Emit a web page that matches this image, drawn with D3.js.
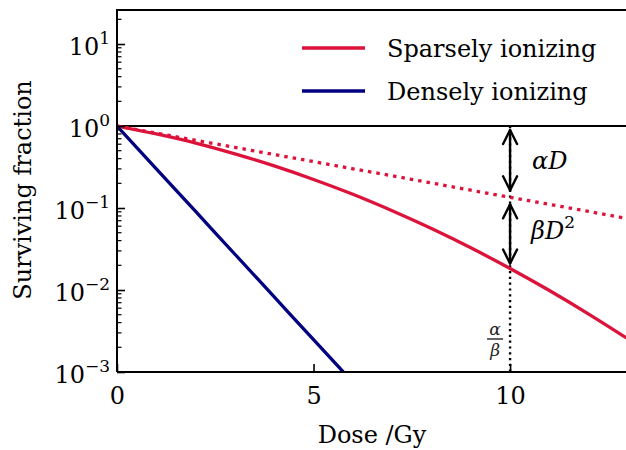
<!DOCTYPE html>
<html>
<head>
<meta charset="utf-8">
<script src="https://cdn.jsdelivr.net/npm/d3@7"></script>
<style>
  body { margin: 0; background: #fff; }
  svg { display: block; font-family: "DejaVu Serif", serif; }
</style>
</head>
<body>
<svg id="chart" width="626" height="450"></svg>
<script>
const doses = [0, 1, 2, 3, 4, 5, 6, 7, 8, 9, 10, 11, 12, 13];
// sparsely ionizing, full survival curve
const sparse = [1, 0.80, 0.62, 0.458, 0.326, 0.223, 0.147, 0.0926, 0.0561, 0.0327, 0.0183, 0.00985, 0.00509, 0.00253];
// sparsely ionizing, linear (alpha) part only - dotted
const sparseLinear = [1, 0.819, 0.670, 0.549, 0.449, 0.368, 0.301, 0.247, 0.202, 0.165, 0.135, 0.111, 0.0907, 0.0743];
// densely ionizing
const denseDoses = [0, 1, 2, 3, 4, 5, 6];
const dense = [1, 0.301, 0.0907, 0.0273, 0.00823, 0.00248, 0.00075];
const xTicks = [0, 5, 10];
const yTicks = [-3, -2, -1, 0, 1];
const alphaOverBeta = 10;

const svg = d3.select('#chart');
const margin = { left: 117, top: 10, bottom: 372 };
const x = d3.scaleLinear().domain([0, 13]).range([margin.left, 628]);
const y = d3.scaleLog().domain([1e-3, 26]).range([margin.bottom, margin.top]);
const fontSize = 24;

svg.append('defs').append('clipPath').attr('id', 'clip')
  .append('rect').attr('x', margin.left).attr('y', margin.top)
  .attr('width', 626 - margin.left).attr('height', margin.bottom - margin.top);

const plot = svg.append('g').attr('clip-path', 'url(#clip)');

// reference line at S = 1
plot.append('line')
  .attr('x1', x(0)).attr('x2', 626)
  .attr('y1', y(1)).attr('y2', y(1))
  .attr('stroke', '#000').attr('stroke-width', 2);

// dotted alpha/beta marker
plot.append('line')
  .attr('x1', x(alphaOverBeta)).attr('x2', x(alphaOverBeta))
  .attr('y1', y(1)).attr('y2', margin.bottom)
  .attr('stroke', '#000').attr('stroke-width', 2.4)
  .attr('stroke-dasharray', '2.2,3.6');

const line = (xs) => d3.line()
  .x((d, i) => x(xs[i]))
  .y(d => y(d))
  .curve(d3.curveMonotoneX);

plot.append('path').datum(sparseLinear)
  .attr('d', line(doses))
  .attr('fill', 'none').attr('stroke', '#dc143c').attr('stroke-width', 3.3)
  .attr('stroke-dasharray', '3.5,5');

plot.append('path').datum(sparse)
  .attr('d', line(doses))
  .attr('fill', 'none').attr('stroke', '#dc143c').attr('stroke-width', 3.3);

plot.append('path').datum(dense)
  .attr('d', line(denseDoses))
  .attr('fill', 'none').attr('stroke', '#000080').attr('stroke-width', 3.3);

// double arrows
function dblArrow(y1, y2) {
  const ax = x(alphaOverBeta);
  const g = svg.append('g').attr('stroke', '#000').attr('stroke-width', 2.4)
    .attr('fill', 'none').attr('stroke-linecap', 'round').attr('stroke-linejoin', 'round');
  g.append('line').attr('x1', ax).attr('x2', ax).attr('y1', y1).attr('y2', y2);
  g.append('path').attr('d', `M${ax - 7},${y1 + 14}L${ax},${y1}L${ax + 7},${y1 + 14}`);
  g.append('path').attr('d', `M${ax - 7},${y2 - 14}L${ax},${y2}L${ax + 7},${y2 - 14}`);
}
const sIdx = doses.indexOf(alphaOverBeta);
dblArrow(y(1) + 4, y(sparseLinear[sIdx]) - 7);
dblArrow(y(sparseLinear[sIdx]) + 7, y(sparse[sIdx]) - 5);

const mathFont = '"DejaVu Serif", serif';
svg.append('text').attr('x', x(alphaOverBeta) + 22).attr('y', 169)
  .attr('font-size', fontSize).attr('font-style', 'italic').attr('font-family', mathFont)
  .text('αD');
const bd = svg.append('text').attr('x', x(alphaOverBeta) + 21).attr('y', 239)
  .attr('font-size', fontSize).attr('font-style', 'italic').attr('font-family', mathFont);
bd.append('tspan').text('βD');
bd.append('tspan').attr('dy', -11).attr('font-size', 17).attr('font-style', 'normal').text('2');

// alpha / beta fraction
const fx = x(alphaOverBeta) - 15;
svg.append('text').attr('x', fx).attr('y', 335).attr('text-anchor', 'middle')
  .attr('font-size', 17).attr('font-style', 'italic').attr('fill', '#222').text('α');
svg.append('line').attr('x1', fx - 8).attr('x2', fx + 8).attr('y1', 339).attr('y2', 339)
  .attr('stroke', '#222').attr('stroke-width', 1.4);
svg.append('text').attr('x', fx).attr('y', 356).attr('text-anchor', 'middle')
  .attr('font-size', 17).attr('font-style', 'italic').attr('fill', '#222').text('β');

// axes
const xAxis = svg.append('g').attr('transform', `translate(0,${margin.bottom})`)
  .call(d3.axisBottom(x).tickValues(xTicks).tickSize(-8).tickPadding(15).tickFormat(d3.format('d')));
xAxis.select('.domain').attr('d', `M${margin.left},0H626`).attr('stroke-width', 2);
xAxis.selectAll('.tick line').attr('stroke-width', 1.6);
xAxis.selectAll('.tick text').attr('font-size', fontSize).attr('font-family', mathFont).attr('dy', '0.71em');

const minor = [];
for (let e = -3; e < 2; e++) for (let m = 2; m <= 9; m++) {
  const v = m * Math.pow(10, e);
  if (v <= 26) minor.push(v);
}
const yAxis = svg.append('g').attr('transform', `translate(${margin.left},0)`);
yAxis.selectAll('line.minor').data(minor).join('line').attr('class', 'minor')
  .attr('x1', 0).attr('x2', 4.5).attr('y1', d => y(d)).attr('y2', d => y(d))
  .attr('stroke', '#000').attr('stroke-width', 1.2);
yAxis.call(d3.axisLeft(y).tickValues(yTicks.map(e => Math.pow(10, e))).tickSize(-8).tickFormat(''));
yAxis.select('.domain').attr('d', `M0,${margin.bottom}V${margin.top}`).attr('stroke-width', 2);
yAxis.selectAll('.tick line').attr('stroke-width', 1.6);

const yLab = svg.append('g');
yTicks.forEach(e => {
  const t = yLab.append('text').attr('x', 110).attr('y', y(Math.pow(10, e)) + 10.5)
    .attr('text-anchor', 'end').attr('font-family', mathFont).attr('font-size', fontSize);
  t.append('tspan').text('10');
  t.append('tspan').attr('dy', -11).attr('font-size', 17).text(e < 0 ? '\u2212' + (-e) : String(e));
});

// top spine
svg.append('line').attr('x1', margin.left - 1).attr('x2', 626)
  .attr('y1', margin.top).attr('y2', margin.top)
  .attr('stroke', '#000').attr('stroke-width', 2);

// axis titles
svg.append('text').attr('x', 372).attr('y', 443).attr('text-anchor', 'middle')
  .attr('font-size', fontSize).text('Dose /Gy');
svg.append('text').attr('transform', `translate(31,${190}) rotate(-90)`)
  .attr('text-anchor', 'middle').attr('font-size', fontSize).text('Surviving fraction');

// legend
const legend = [
  { name: 'Sparsely ionizing', color: '#dc143c', y: 48 },
  { name: 'Densely ionizing', color: '#000080', y: 91 }
];
const lg = svg.append('g');
lg.selectAll('line').data(legend).join('line')
  .attr('x1', 302).attr('x2', 365).attr('y1', d => d.y).attr('y2', d => d.y)
  .attr('stroke', d => d.color).attr('stroke-width', 3.3);
lg.selectAll('text').data(legend).join('text')
  .attr('x', 387).attr('y', d => d.y + 9).attr('font-size', fontSize).text(d => d.name);
</script>
</body>
</html>
